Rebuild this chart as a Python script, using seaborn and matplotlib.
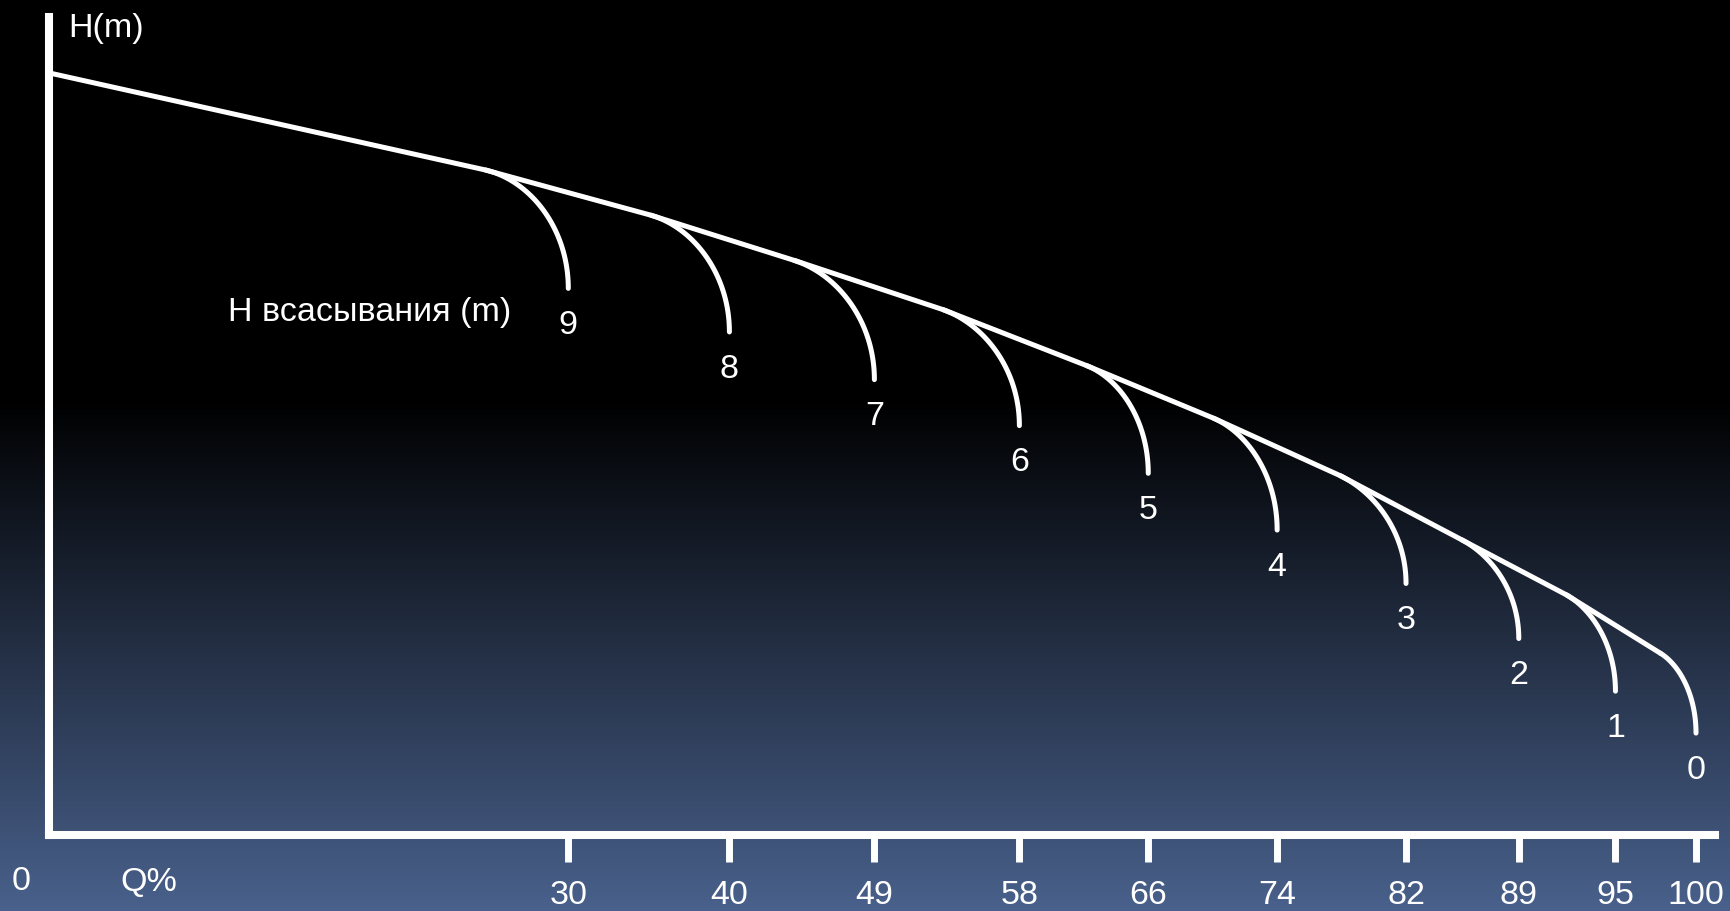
import numpy as np
import pandas as pd
import matplotlib
matplotlib.use("Agg")
import matplotlib.pyplot as plt
import seaborn as sns

sns.set_theme(style="white")
plt.rcParams['font.family'] = ['Liberation Sans', 'DejaVu Sans']

# ---------------- data ----------------
q_ticks = [30, 40, 49, 58, 66, 74, 82, 89, 95, 100]          # Q% tick values
suction_labels = ["9", "8", "7", "6", "5", "4", "3", "2", "1", "0"]  # H suction (m)
# main H(Q) curve
main_q = [-2.2, 24.86, 35.13, 44.03, 53.28, 62.18, 70.06, 77.93, 85.47, 91.97, 97.8]
main_h = [92.7, 80.9, 75.4, 69.9, 63.9, 57.1, 50.7, 43.7, 35.9, 29.2, 22.1]
# end height of each suction branch (branch ends vertically at the tick value)
branch_end_h = [66.5, 61.2, 55.4, 49.8, 44.0, 37.1, 30.6, 23.9, 17.5, 12.4]

# ---------------- layout ----------------
W, H = 1730, 912
QX0, QPX = 85.0, 16.11     # pixel x of Q=0, pixels per Q unit
HY0, HPX = 836.0, 8.22     # pixel y of H=0, pixels per H unit
ax_l, ax_r, ax_t = 49.0, 1715.0, 18.0
FS = 24.5

fig = plt.figure(figsize=(W / 100, H / 100), dpi=100)

# background gradient
bg = fig.add_axes([0, 0, 1, 1])
ys = np.arange(H)
t = np.clip((ys - 400) / (H - 400), 0, 1)
top_col = np.array([0, 0, 0]) / 255
bot_col = np.array([73, 97, 140]) / 255
grad = top_col[None, :] * (1 - t[:, None]) + bot_col[None, :] * t[:, None]
bg.imshow(grad[:, None, :], aspect='auto', extent=[0, 1, 0, 1], origin='upper')
bg.axis('off')

rect = [ax_l / W, (H - HY0) / H, (ax_r - ax_l) / W, (HY0 - ax_t) / H]
ax = fig.add_axes(rect)
ax.patch.set_alpha(0)
ax.set_xlim((ax_l - QX0) / QPX, (ax_r - QX0) / QPX)
ax.set_ylim(0, (HY0 - ax_t) / HPX)

LW = 3.6
# main curve
sns.lineplot(x=main_q, y=main_h, ax=ax, color='white', linewidth=LW,
             estimator=None, sort=False)


def bezier(p0, p1, p2, p3, n=80):
    tt = np.linspace(0, 1, n)[:, None]
    return ((1 - tt) ** 3 * p0 + 3 * (1 - tt) ** 2 * tt * p1
            + 3 * (1 - tt) * tt ** 2 * p2 + tt ** 3 * p3)


k = 0.55
for i, (qe, he, lbl) in enumerate(zip(q_ticks, branch_end_h, suction_labels)):
    j = i + 1
    q0, h0 = main_q[j], main_h[j]
    if j < len(main_q) - 1:
        s = (main_h[j + 1] - main_h[j - 1]) / (main_q[j + 1] - main_q[j - 1])
    else:
        s = (main_h[j] - main_h[j - 1]) / (main_q[j] - main_q[j - 1])
    d = qe - q0
    p0 = np.array([q0, h0])
    p1 = np.array([q0 + k * d, h0 + k * d * s])
    p3 = np.array([qe, he])
    p2 = np.array([qe, he + k * (h0 + k * d * s - he)])
    pts = bezier(p0, p1, p2, p3)
    sns.lineplot(x=pts[:, 0], y=pts[:, 1], ax=ax, color='white', linewidth=LW,
                 estimator=None, sort=False)
    ax.annotate(lbl, (qe, he), xytext=(0, -26), textcoords='offset points',
                ha='center', va='center', fontsize=FS, color='white',
                annotation_clip=False)

# axes styling
for side in ['top', 'right']:
    ax.spines[side].set_visible(False)
for side in ['left', 'bottom']:
    ax.spines[side].set_color('white')
    ax.spines[side].set_linewidth(5.8)
ax.set_xticks(q_ticks)
ax.set_xticklabels([str(v) for v in q_ticks])
ax.set_yticks([])
ax.tick_params(axis='x', bottom=True, direction='out', length=19.4, width=5,
               color='white', labelcolor='white', labelsize=FS, pad=12)
ax.set_xlabel("")
ax.set_ylabel("")

ax.text(-1.06, 98.2, "H(m)", ha='left', va='center', fontsize=FS, color='white', clip_on=False)
ax.text(8.88, 63.7, "H всасывания (m)", ha='left', va='center', fontsize=FS, color='white')
ax.text(-3.97, -5.5, "0", ha='center', va='center', fontsize=FS, color='white', clip_on=False)
ax.text(3.97, -5.6, "Q%", ha='center', va='center', fontsize=FS, color='white', clip_on=False)

fig.savefig("out.png", dpi=100)
